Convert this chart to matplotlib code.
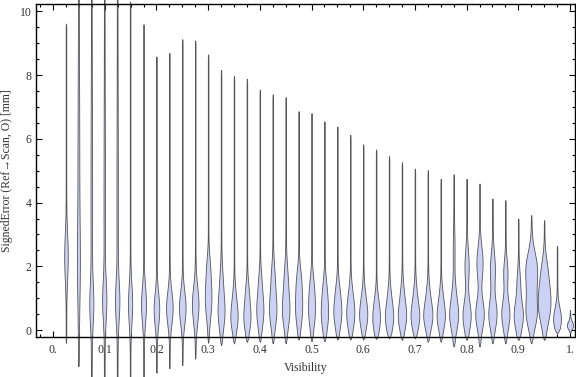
import numpy as np
import matplotlib
matplotlib.use("Agg")
import matplotlib.pyplot as plt
from matplotlib.ticker import MultipleLocator, FixedLocator

# visibility bin centres
visibility = [0.025, 0.05, 0.075, 0.1, 0.125, 0.15, 0.175, 0.2, 0.225, 0.25,
              0.275, 0.3, 0.325, 0.35, 0.375, 0.4, 0.425, 0.45, 0.475, 0.5,
              0.525, 0.55, 0.575, 0.6, 0.625, 0.65, 0.675, 0.7, 0.725, 0.75,
              0.775, 0.8, 0.825, 0.85, 0.875, 0.9, 0.925, 0.95, 0.975, 1.0]

# max / min signed error per bin [mm]
err_max = [9.62, 12.0, 12.5, 12.0, 12.0, 10.3, 9.6, 8.59, 8.7, 9.13,
           9.09, 8.65, 8.17, 7.98, 7.89, 7.55, 7.40, 7.31, 6.87, 6.81,
           6.55, 6.39, 6.13, 5.83, 5.67, 5.46, 5.27, 5.07, 5.02, 4.75,
           4.89, 4.75, 4.60, 4.13, 4.08, 3.50, 3.61, 3.45, 2.65, 0.63]
err_min = [-0.4, -1.15, -1.8, -1.8, -1.8, -1.7, -1.5, -1.34, -1.2, -1.1,
           -0.9, -0.4, -0.47, -0.42, -0.37, -0.37, -0.42, -0.42, -0.3, -0.35,
           -0.35, -0.3, -0.3, -0.3, -0.28, -0.26, -0.31, -0.26, -0.37, -0.37,
           -0.52, -0.31, -0.52, -0.42, -0.42, -0.31, -0.42, -0.31, -0.1, -0.1]

# density modes per bin: (centre, spread, relative density)
modes = [
    [(2.3, 0.7, 1.5)],
    [(2.0, 1.2, 0.8), (5.0, 3.0, 0.6)],
    [(0.8, 0.6, 1.5), (4.0, 3.0, 0.5)],
    [(0.9, 0.6, 1.6), (4.0, 3.0, 0.4)],
    [(0.9, 0.6, 1.7), (4.0, 3.0, 0.4)],
    [(0.8, 0.6, 1.8)],
    [(0.8, 0.55, 2.2)],
    [(0.65, 0.5, 2.5)],
    [(0.7, 0.5, 3.0)],
    [(0.7, 0.5, 3.0)],
    [(0.8, 0.55, 3.0)],
    [(1.0, 0.6, 3.0), (2.0, 0.4, 1.0)],
    [(0.55, 0.5, 3.0), (1.5, 0.5, 1.2)],
    [(0.35, 0.4, 3.0), (1.0, 0.4, 1.2)],
    [(0.35, 0.4, 3.0), (1.1, 0.4, 1.5)],
    [(0.6, 0.5, 3.2), (1.5, 0.4, 1.0)],
    [(0.6, 0.5, 3.2), (1.6, 0.5, 1.5)],
    [(0.6, 0.5, 3.3), (1.6, 0.5, 1.5)],
    [(0.7, 0.55, 3.2), (1.6, 0.4, 1.5)],
    [(0.6, 0.5, 3.0), (1.4, 0.4, 1.3)],
    [(0.5, 0.5, 3.2), (1.3, 0.4, 1.2)],
    [(0.5, 0.45, 3.4), (1.2, 0.4, 1.3)],
    [(0.45, 0.45, 3.4), (1.1, 0.4, 1.2)],
    [(0.4, 0.4, 3.3), (1.0, 0.4, 1.3)],
    [(0.3, 0.4, 3.2), (0.9, 0.35, 1.2)],
    [(0.35, 0.4, 3.5), (1.0, 0.4, 1.3)],
    [(0.4, 0.4, 3.6), (1.1, 0.4, 1.3)],
    [(0.4, 0.4, 3.8), (1.1, 0.4, 1.2)],
    [(0.42, 0.4, 4.0), (1.1, 0.4, 1.2)],
    [(0.42, 0.4, 3.7), (1.1, 0.35, 1.0)],
    [(0.45, 0.45, 4.0), (1.2, 0.4, 1.0), (2.5, 0.6, 0.6)],
    [(0.45, 0.45, 3.8), (2.0, 0.5, 1.8)],
    [(0.5, 0.45, 4.0), (2.1, 0.5, 2.8)],
    [(0.5, 0.45, 3.8), (1.9, 0.5, 2.2)],
    [(0.5, 0.45, 3.8), (1.8, 0.4, 1.8)],
    [(0.45, 0.45, 4.3), (1.5, 0.4, 1.3)],
    [(0.5, 0.45, 4.8), (1.95, 0.5, 5.2), (1.2, 0.4, 2.0)],
    [(0.6, 0.5, 4.2), (1.3, 0.5, 3.5), (2.0, 0.4, 1.5)],
    [(0.35, 0.35, 3.6)],
    [(0.15, 0.12, 2.8)],
]

fill_col = "#ccd1f6"
edge_col = "#555555"
unit = 0.00193      # x-data width of one density unit
tail = 0.3

plt.rcParams['font.family'] = ['Liberation Serif', 'DejaVu Serif']

fig = plt.figure(figsize=(5.76, 3.77), dpi=100)
ax = fig.add_axes([0.0625, 0.106, 0.936, 0.883])

for x, lo, hi, md in zip(visibility, err_min, err_max, modes):
    y = np.linspace(lo, hi, 400)
    w = np.full_like(y, tail)
    for c, s, a in md:
        w += a * np.exp(-0.5 * ((y - c) / s) ** 2)
    # pointed ends
    w *= np.clip((y - lo) / 0.15, 0, 1) ** 0.5 * np.clip((hi - y) / 0.15, 0, 1) ** 0.5
    w *= unit
    ax.fill_betweenx(y, x - w, x + w, facecolor=fill_col, edgecolor=edge_col,
                     linewidth=0.6, clip_on=False, zorder=2)

ax.set_xlim(-0.033, 1.01)
ax.set_ylim(-0.22, 10.23)

ax.xaxis.set_major_locator(FixedLocator([0, 0.1, 0.2, 0.3, 0.4, 0.5, 0.6, 0.7, 0.8, 0.9, 1.0]))
ax.xaxis.set_minor_locator(MultipleLocator(0.025))
ax.set_xticklabels(["0.", "0.1", "0.2", "0.3", "0.4", "0.5", "0.6", "0.7", "0.8", "0.9", "1."])
ax.yaxis.set_major_locator(MultipleLocator(2))
ax.yaxis.set_minor_locator(MultipleLocator(0.5))
ax.set_yticks([0, 2, 4, 6, 8, 10])
ax.set_yticklabels(["0", "2", "4", "6", "8", "10"])

ax.tick_params(which='both', direction='in', top=True, right=True,
               colors='black', labelcolor='#333333', labelsize=8.5, width=0.8)
ax.tick_params(which='major', length=4.5, pad=3)
ax.tick_params(which='minor', length=2.5)
ax.tick_params(axis='x', which='major', pad=5)
for sp in ax.spines.values():
    sp.set_linewidth(1.0)

ax.set_xlabel("Visibility", fontsize=8.5, color='#333333', labelpad=4)
ax.set_ylabel("SignedError (Ref\u2192Scan, O) [mm]", fontsize=8.5, color='#333333', labelpad=5)

fig.savefig("out.png", dpi=100)
